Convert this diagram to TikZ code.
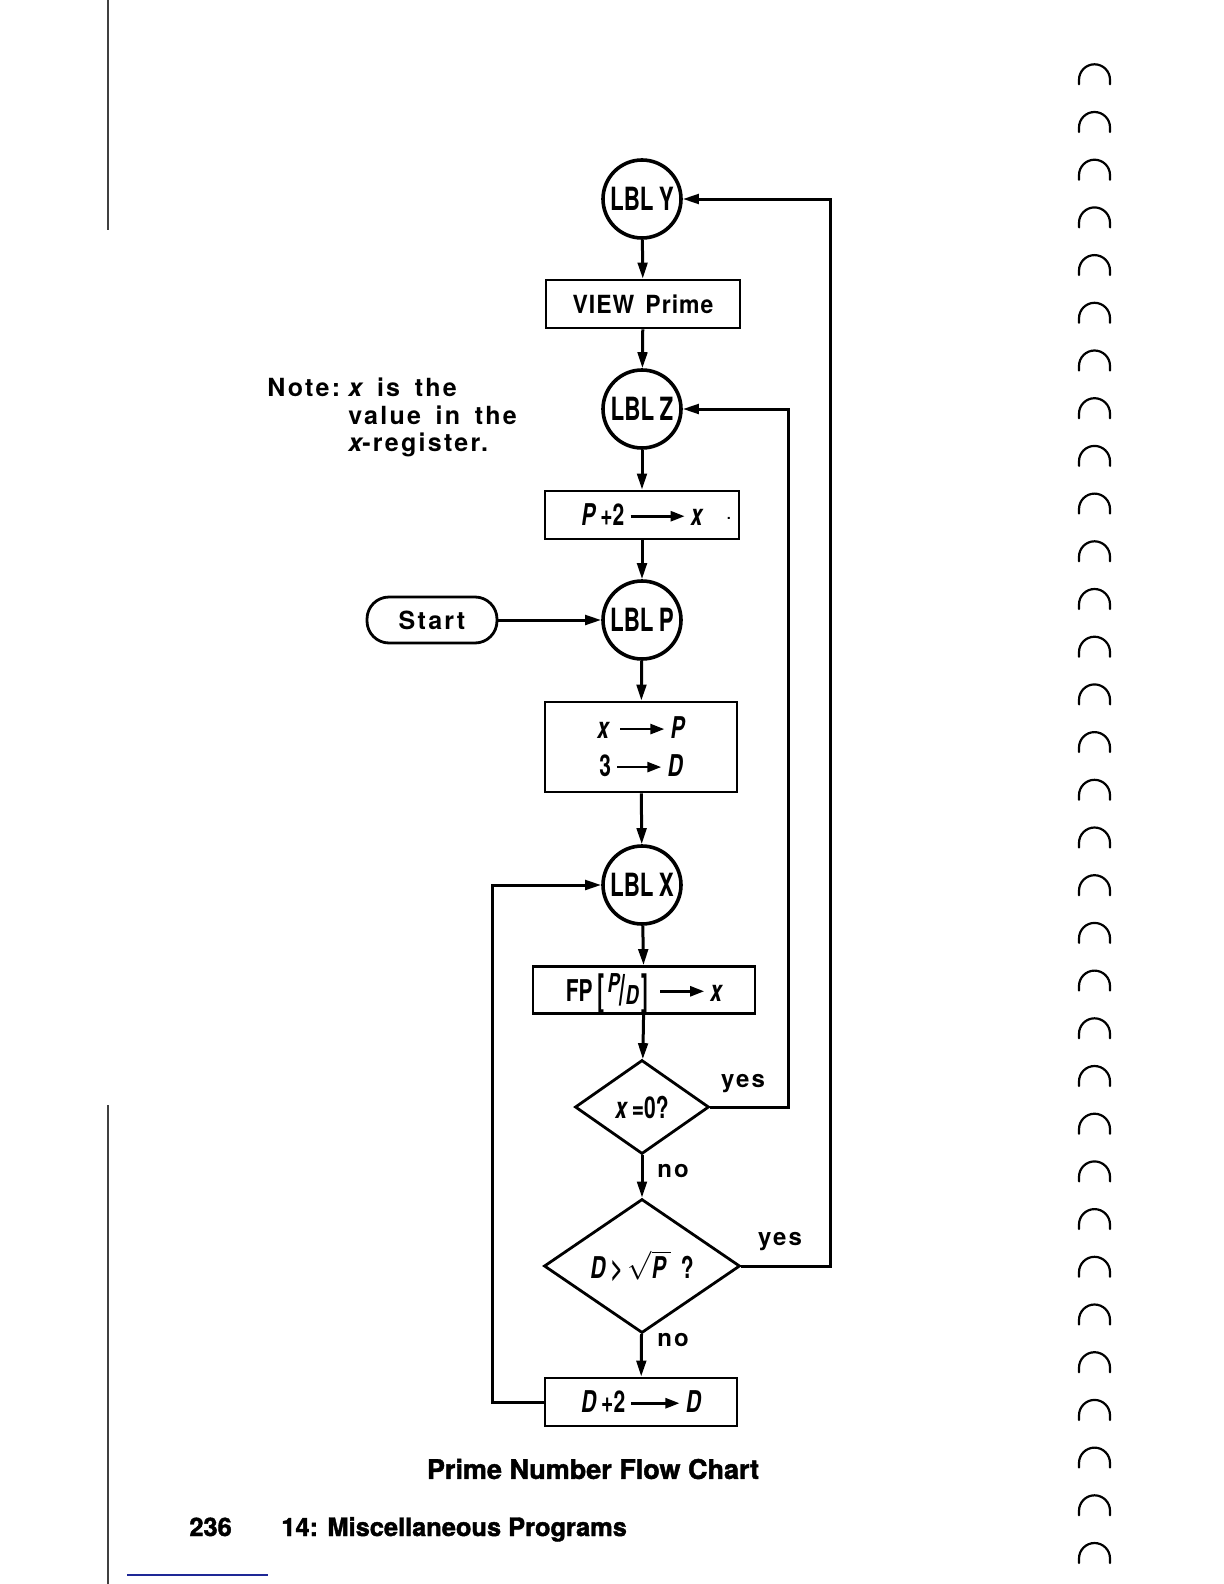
\documentclass[tikz,border=0pt]{standalone}
\usepackage{fontspec}
\usepackage{graphicx}
\usetikzlibrary{arrows.meta,shapes.geometric}
\setmainfont{TeX Gyre Heros}
\newfontfamily\condf[FakeStretch=0.70]{TeX Gyre Heros}
\newfontfamily\lerf[LetterSpace=9,WordSpace=1.6]{TeX Gyre Heros}
\newfontfamily\viewf[LetterSpace=4,FakeStretch=0.92,WordSpace=1.5]{TeX Gyre Heros}
\newfontfamily\capf[FakeBold=1.6]{TeX Gyre Heros}
\newcommand\rar[1]{\tikz[baseline=-0.6ex,x=1pt,y=1pt]\draw[line width=1.3pt,-{Triangle[length=7pt,width=5pt]}](0,0)--(#1,0);}
\newcommand\tallbr[1]{\raisebox{-0.28ex}{\scalebox{1}[1.45]{#1}}}
\definecolor{scanblue}{RGB}{30,40,150}
\tikzset{
  lbl/.style={circle,draw,line width=1.8pt,minimum size=39pt,inner sep=0pt,
    font=\condf\bfseries\fontsize{16}{16}\selectfont},
  proc/.style={rectangle,draw,line width=1.4pt,inner sep=0pt,
    font=\condf\bfseries\fontsize{15}{18}\selectfont},
  dec/.style={diamond,draw,line width=1.4pt,inner sep=0pt,
    font=\condf\bfseries\fontsize{15}{15}\selectfont},
  term/.style={rectangle,rounded corners=11pt,draw,line width=1.4pt,
    minimum width=65pt,minimum height=23pt,inner sep=0pt,
    font=\lerf\bfseries\fontsize{12.5}{12.5}\selectfont},
  lab/.style={font=\lerf\bfseries\fontsize{12}{12}\selectfont,inner sep=0pt},
  notef/.style={font=\lerf\bfseries\fontsize{12.5}{12.5}\selectfont,inner sep=0pt,anchor=base west},
  arr/.style={line width=1.5pt,-{Triangle[length=8pt,width=4.8pt]}},
  binder/.style={line width=1.1pt,line cap=round}
}
\begin{document}
\begin{tikzpicture}[x=0.5pt,y=-0.5pt]
\useasboundingbox (0,0) rectangle (1224,1584);
% scan edges
\draw[line width=0.9pt,black!75] (108,0) -- (108,230);
\draw[line width=0.9pt,black!75] (108,1105) -- (108,1584);
\draw[line width=0.7pt,scanblue] (127,1575) -- (268,1575);
\foreach \k in {-1,...,30}{
  \draw[binder] ({1079},{112+47.7*\k+20}) -- ({1079},{112+47.7*\k+15.5})
     arc[start angle=180,end angle=0,radius=7.75pt] -- ({1110},{112+47.7*\k+20});
}
% nodes
\node[lbl] (ly) at (642,199) {LBL\,Y};
\node[proc,minimum width=97pt,minimum height=24pt,font=\viewf\bfseries\fontsize{12.5}{12.5}\selectfont] (view) at (643,304) {VIEW\ Prime};
\node[lbl] (lz) at (642,409) {LBL\,Z};
\node[proc,minimum width=97pt,minimum height=24pt] (p2) at (642,515) {\itshape P\upshape\,+2\,\rar{27}\,\itshape x};
\node[inner sep=0pt,font=\fontsize{10}{10}\selectfont] (dot) at (729,518) {.};
\node[lbl] (lp) at (642,620) {LBL\,P};
\node[term] (start) at (432,620) {Start};
\node[proc,minimum width=96pt,minimum height=45pt,align=center] (xp) at (641,747)
  {\itshape x\upshape\,\,\rar{22}\,\itshape P\\[1pt]3\,\rar{22}\,\itshape D};
\node[lbl] (lx) at (642,885) {LBL\,X};
\node[proc,minimum width=111pt,minimum height=23.5pt,text height=11pt,text depth=0pt] (fp) at (644,990)
  {FP\,\tallbr{[}\kern1.5pt\raisebox{0.5ex}{\fontsize{13}{13}\selectfont\itshape P}\tallbr{/}\raisebox{-0.2ex}{\fontsize{13}{13}\selectfont\itshape D}\kern1.5pt\tallbr{]}\,\,\rar{22}\,\itshape x};
\node[dec,minimum width=67pt,minimum height=47pt] (d1) at (642,1107) {\itshape x\upshape\,=0?};
\node[dec,minimum width=98pt,minimum height=67pt] (d2) at (642,1266)
  {\itshape D\upshape\,>\,$\sqrt{\mbox{\itshape P\,}}$\,\,?};
\node[proc,minimum width=96pt,minimum height=24pt] (dd) at (641,1402) {\itshape D\upshape\,+2\,\rar{24}\,\itshape D};
% labels
\node[lab] (yes1) at (743,1084) {yes};
\node[lab] (yes2) at (780,1242) {yes};
\node[lab] (no1) at (673,1171) {no};
\node[lab] (no2) at (673,1340) {no};
% note
\node[notef] (note1) at (267,396) {Note:};
\node[notef] (note2) at (348,396) {\itshape x\upshape\ is the};
\node[notef] (note3) at (348,424) {value in the};
\node[notef] (note4) at (348,451) {\itshape x\upshape -register.};
% caption
\node[inner sep=0pt,font=\capf\bfseries\fontsize{13.5}{13.5}\selectfont] (cap) at (593,1469) {Prime Number Flow Chart};
\node[inner sep=0pt,anchor=base west,font=\capf\bfseries\fontsize{12.7}{12.7}\selectfont] (pg) at (189,1536) {236};
\node[inner sep=0pt,anchor=base west,font=\capf\bfseries\fontsize{12.7}{12.7}\selectfont] (ch) at (281,1536) {14: Miscellaneous Programs};
% connectors
\coordinate (cyy) at (830,199);
\coordinate (czz) at (788,409);
\coordinate (cxx) at (492,885);
\draw[arr] (ly) -- (view);
\draw[arr] (view) -- (lz);
\draw[arr] (lz) -- (p2);
\draw[arr] (p2) -- (lp);
\draw[arr] (start) -- (lp);
\draw[arr] (lp) -- (xp);
\draw[arr] (xp) -- (lx);
\draw[arr] (lx) -- (fp);
\draw[arr] (fp) -- (d1);
\draw[arr] (d1) -- (d2);
\draw[arr] (d2) -- (dd);
\draw[arr] (d1.east) -| (czz) -- (lz.east);
\draw[arr] (d2.east) -| (cyy) -- (ly.east);
\draw[arr] (dd.west) -| (cxx) -- (lx.west);
\end{tikzpicture}
\end{document}
